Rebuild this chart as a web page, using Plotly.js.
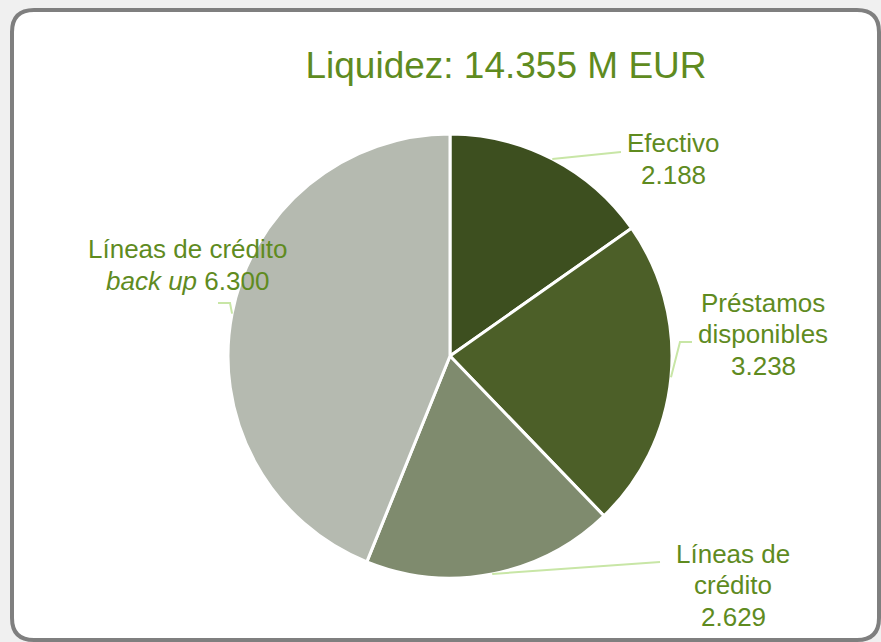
<!DOCTYPE html>
<html>
<head>
<meta charset="utf-8">
<script src="https://cdn.plot.ly/plotly-3.0.1.min.js"></script>
<style>html,body{margin:0;padding:0;background:#f0f0f0;}#chart{width:881px;height:642px;}</style>
</head>
<body>
<div id="chart"></div>
<script>
// ---- data ----
const categories = ["Efectivo", "Préstamos disponibles", "Líneas de crédito", "Líneas de crédito back up"];
const values = [2.188, 3.238, 2.629, 6.300];
const labelLines = [["Efectivo"], ["Préstamos", "disponibles"], ["Líneas de", "crédito"], ["Líneas de crédito", "<i>back up</i>"]];
const valueInline = [false, false, false, true];
const titlePrefix = "Liquidez: ";
const titleSuffix = " M EUR";

// ---- layout constants (pixels) ----
const W = 881, H = 642;
const CX = 450, CY = 356, R = 222;
const colors = ["#3d4f1f", "#4c5f28", "#7f8b6e", "#b5bab0"];
const textColor = "#5f8b1f";
const leaderColor = "#c8e6a6";
const labelCenters = [[673, 159], [763, 334], [733, 585], [187, 265]];
const lineGap = 31.5;
const leaderBends = [[[621, 152]], [[680, 342], [692, 342]], [[660, 562]], [[230, 303], [218, 303]]];
const fontFam = "Liberation Sans, Arial, sans-serif";

const px = x => x / W;
const py = y => 1 - y / H;

const total = values.reduce((a, b) => a + b, 0);

const shapes = [];
// rounded frame
const fx0 = 12, fy0 = 10, fx1 = 879, fy1 = 640, rr = 22;
shapes.push({
  type: "path", xref: "paper", yref: "paper", layer: "below",
  path: `M ${px(fx0 + rr)},${py(fy0)} L ${px(fx1 - rr)},${py(fy0)} Q ${px(fx1)},${py(fy0)} ${px(fx1)},${py(fy0 + rr)} L ${px(fx1)},${py(fy1 - rr)} Q ${px(fx1)},${py(fy1)} ${px(fx1 - rr)},${py(fy1)} L ${px(fx0 + rr)},${py(fy1)} Q ${px(fx0)},${py(fy1)} ${px(fx0)},${py(fy1 - rr)} L ${px(fx0)},${py(fy0 + rr)} Q ${px(fx0)},${py(fy0)} ${px(fx0 + rr)},${py(fy0)} Z`,
  fillcolor: "#ffffff", line: {color: "#7f7f7f", width: 4}
});

let cum = 0;
const annotations = [];
values.forEach((v, i) => {
  const mid = (cum + v / 2) / total * 2 * Math.PI;
  cum += v;
  const sx = CX + R * Math.sin(mid);
  const sy = CY - R * Math.cos(mid);
  let path = `M ${px(sx)},${py(sy)}`;
  leaderBends[i].forEach(p => { path += ` L ${px(p[0])},${py(p[1])}`; });
  shapes.push({type: "path", xref: "paper", yref: "paper", layer: "above", path: path,
    line: {color: leaderColor, width: 2}});
  const lines = labelLines[i].slice();
  const vt = v.toFixed(3);
  if (valueInline[i]) lines[lines.length - 1] += " " + vt; else lines.push(vt);
  const n = lines.length;
  lines.forEach((t, j) => {
    annotations.push({
      xref: "paper", yref: "paper",
      x: px(labelCenters[i][0]), y: py(labelCenters[i][1] + (j - (n - 1) / 2) * lineGap),
      xanchor: "center", yanchor: "middle", showarrow: false, align: "center",
      text: t,
      font: {family: fontFam, size: 26, color: textColor}
    });
  });
});

const trace = {
  type: "pie",
  labels: categories,
  values: values,
  sort: false,
  direction: "clockwise",
  rotation: 0,
  textinfo: "none",
  hoverinfo: "none",
  marker: {colors: colors, line: {color: "#ffffff", width: 3}},
  domain: {x: [px(CX - R), px(CX + R)], y: [py(CY + R), py(CY - R)]},
  showlegend: false
};

const layout = {
  width: W, height: H,
  margin: {l: 0, r: 0, t: 0, b: 0},
  paper_bgcolor: "#f0f0f0",
  plot_bgcolor: "rgba(0,0,0,0)",
  title: {
    text: titlePrefix + total.toFixed(3) + titleSuffix,
    x: px(506), xanchor: "center", y: py(65), yanchor: "middle", yref: "paper",
    font: {family: fontFam, size: 37, color: textColor}
  },
  shapes: shapes,
  annotations: annotations,
  showlegend: false
};

Plotly.newPlot("chart", [trace], layout, {displayModeBar: false, staticPlot: true});
</script>
</body>
</html>
